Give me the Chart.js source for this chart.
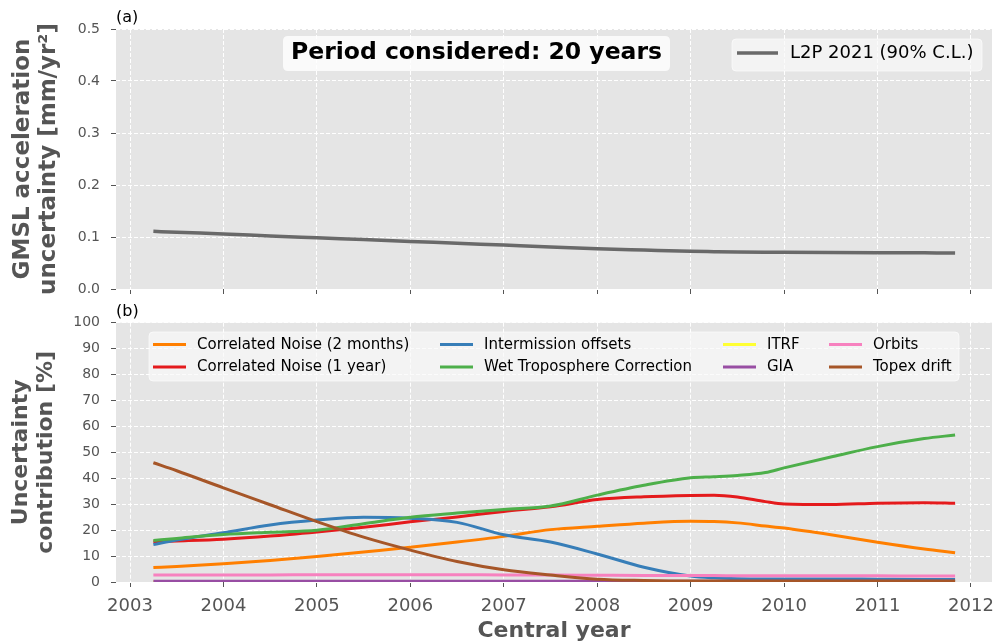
<!DOCTYPE html>
<html><head><meta charset="utf-8">
<script src="https://cdn.jsdelivr.net/npm/chart.js@4.4.1/dist/chart.umd.min.js"></script>
<style>
html,body{margin:0;padding:0;background:#fff;}
#wrap{position:relative;width:995px;height:641px;overflow:hidden;}
canvas{position:absolute;left:0;}
#c1{top:0;} #c2{top:300px;}
</style></head><body>
<div id="wrap">
<canvas id="c1" width="995" height="300"></canvas>
<canvas id="c2" width="995" height="341"></canvas>
</div>
<script>
// ---------- DATA ----------
const centralYears = [2003.25, 2003.5, 2004, 2004.5, 2005, 2005.5, 2006, 2006.5, 2007, 2007.5, 2008, 2008.5, 2009, 2009.25, 2009.5, 2009.8, 2010, 2010.5, 2011, 2011.5, 2011.83];
const yearTicks = [2003, 2004, 2005, 2006, 2007, 2008, 2009, 2010, 2011, 2012];
const accelTicks = [0.0, 0.1, 0.2, 0.3, 0.4, 0.5];
const contribTicks = [0, 10, 20, 30, 40, 50, 60, 70, 80, 90, 100];

const l2pAccelUncertainty = [0.111, 0.109, 0.106, 0.102, 0.0985, 0.095, 0.0915, 0.088, 0.0845, 0.081, 0.0776, 0.075, 0.0725, 0.0718, 0.0712, 0.0708, 0.0706, 0.0702, 0.0698, 0.0695, 0.0692];

const corrNoise2m   = [5.6, 6.0, 7.0, 8.3, 9.8, 11.6, 13.4, 15.4, 17.6, 20.2, 21.5, 22.7, 23.4, 23.3, 22.8, 21.6, 20.8, 18.2, 15.3, 12.7, 11.3];
const corrNoise1y   = [15.5, 15.8, 16.5, 17.7, 19.3, 21.1, 23.2, 25.1, 27.2, 29.0, 31.8, 32.9, 33.4, 33.5, 32.8, 31.0, 30.1, 29.9, 30.4, 30.6, 30.4];
const intermission  = [14.5, 16.2, 19.0, 22.0, 23.9, 25.0, 24.6, 23.0, 18.2, 15.4, 10.8, 5.7, 2.3, 1.6, 1.3, 1.2, 1.2, 1.2, 1.1, 1.0, 1.0];
const wetTropo      = [16.0, 16.8, 18.3, 19.2, 20.0, 22.5, 25.0, 26.6, 28.0, 29.3, 33.5, 37.3, 40.2, 40.6, 41.1, 42.2, 44.0, 48.2, 52.2, 55.3, 56.7];
const itrf          = [0.1, 0.1, 0.1, 0.1, 0.1, 0.1, 0.1, 0.1, 0.1, 0.1, 0.1, 0.1, 0.1, 0.1, 0.1, 0.1, 0.1, 0.1, 0.1, 0.1, 0.1];
const gia           = [0.3, 0.3, 0.3, 0.3, 0.3, 0.3, 0.3, 0.3, 0.3, 0.3, 0.3, 0.3, 0.3, 0.3, 0.3, 0.3, 0.3, 0.3, 0.3, 0.3, 0.3];
const orbits        = [2.7, 2.7, 2.7, 2.7, 2.8, 2.8, 2.8, 2.8, 2.7, 2.7, 2.6, 2.5, 2.5, 2.5, 2.4, 2.4, 2.4, 2.4, 2.4, 2.3, 2.3];
const topexDrift    = [46.0, 42.9, 36.3, 29.8, 23.3, 17.3, 12.3, 7.9, 4.7, 2.7, 1.1, 0.6, 0.4, 0.4, 0.4, 0.4, 0.4, 0.4, 0.4, 0.4, 0.4];

const seriesLabels = ['Correlated Noise (2 months)', 'Correlated Noise (1 year)', 'Intermission offsets', 'Wet Troposphere Correction', 'ITRF', 'GIA', 'Orbits', 'Topex drift'];
const seriesValues = [corrNoise2m, corrNoise1y, intermission, wetTropo, itrf, gia, orbits, topexDrift];
const seriesColors = ['#ff7f00', '#e41a1c', '#377eb8', '#4daf4a', '#ffff33', '#984ea3', '#f781bf', '#a65628'];

const topLabel = 'L2P 2021 (90% C.L.)';
const periodText = 'Period considered: 20 years';

// ---------- STYLE ----------
const FONT = "'DejaVu Sans', 'Liberation Sans', sans-serif";
const TICKC = '#555555';
const DASH = [4, 2];

function pts(vals){ return centralYears.map((x,i)=>({x:x, y:vals[i]})); }

function roundRect(ctx,x,y,w,h,r){
  ctx.beginPath();
  ctx.moveTo(x+r,y); ctx.lineTo(x+w-r,y); ctx.quadraticCurveTo(x+w,y,x+w,y+r);
  ctx.lineTo(x+w,y+h-r); ctx.quadraticCurveTo(x+w,y+h,x+w-r,y+h);
  ctx.lineTo(x+r,y+h); ctx.quadraticCurveTo(x,y+h,x,y+h-r);
  ctx.lineTo(x,y+r); ctx.quadraticCurveTo(x,y,x+r,y); ctx.closePath();
}

const bgPlugin = {
  id:'bg',
  beforeDraw(chart){
    const {ctx, chartArea:a} = chart;
    ctx.save(); ctx.fillStyle = '#e5e5e5';
    ctx.fillRect(a.left, a.top, a.right-a.left, a.bottom-a.top);
    ctx.restore();
  }
};

function gridOpts(){
  return {color:'#ffffff', lineWidth:1, tickColor:TICKC, tickLength:5, tickWidth:1, tickBorderDash:[], borderDash:DASH};
}

function xScale(h){
  return {
    type:'linear', min:2002.85, max:2012.225,
    afterBuildTicks(s){ s.ticks = yearTicks.map(v=>({value:v})); },
    afterFit(s){ s.height = h; s.paddingLeft = 0; s.paddingRight = 0; },
    grid: gridOpts(),
    border:{display:false, dash:DASH},
  };
}
function yScale(min,max,tickVals,fmt,title,size,lh,pad){
  return {
    type:'linear', min:min, max:max,
    afterBuildTicks(s){ s.ticks = tickVals.map(v=>({value:v})); },
    afterFit(s){ s.width = 116; s.paddingTop = 0; s.paddingBottom = 0; },
    grid: gridOpts(),
    border:{display:false, dash:DASH},
    ticks:{color:TICKC, font:{family:FONT, size:14}, padding:11, callback:fmt},
    title:{display:true, text:title, color:TICKC, font:{family:FONT, size:size, weight:'bold', lineHeight:lh}, padding:{top:pad, bottom:0}}
  };
}

// ---------- TOP CHART ----------
const topOverlay = {
  id:'topOverlay',
  afterDraw(chart){
    const ctx = chart.ctx;
    ctx.save();
    ctx.fillStyle = '#000'; ctx.font = '16px '+FONT; ctx.textBaseline = 'alphabetic'; ctx.textAlign='left';
    ctx.fillText('(a)', 116, 22);
    // period text box
    ctx.fillStyle = 'rgba(255,255,255,0.8)';
    roundRect(ctx, 283, 36, 387, 35, 5); ctx.fill();
    ctx.fillStyle = '#000'; ctx.font = 'bold 23.5px '+FONT; ctx.textAlign='center'; ctx.textBaseline='middle';
    ctx.fillText(periodText, 476.5, 53);
    // legend
    ctx.fillStyle = 'rgba(250,250,250,0.7)';
    roundRect(ctx, 732, 39, 250, 32, 4); ctx.fill();
    ctx.strokeStyle = 'rgba(255,255,255,0.6)'; ctx.lineWidth = 1; ctx.stroke();
    const ds = chart.data.datasets[0];
    ctx.strokeStyle = ds.borderColor; ctx.lineWidth = ds.borderWidth; ctx.lineCap='butt';
    ctx.beginPath(); ctx.moveTo(737, 53); ctx.lineTo(778, 53); ctx.stroke();
    ctx.fillStyle = '#000'; ctx.font = '18px '+FONT; ctx.textAlign='left'; ctx.textBaseline='middle';
    ctx.fillText(ds.label, 790, 53.5);
    ctx.restore();
  }
};

new Chart(document.getElementById('c1'), {
  type:'line',
  data:{ datasets:[{label:topLabel, data:pts(l2pAccelUncertainty), borderColor:'#696969', borderWidth:3.5, pointRadius:0, fill:false, tension:0.4, cubicInterpolationMode:'monotone'}]},
  options:{
    responsive:false, animation:false,
    layout:{padding:{left:0, top:29, right:3, bottom:0}},
    plugins:{legend:{display:false}, tooltip:{enabled:false}},
    scales:{
      x: Object.assign(xScale(11), {ticks:{display:false}}),
      y: yScale(0, 0.5, accelTicks, v=>Number(v).toFixed(1), ['GMSL acceleration','uncertainty [mm/yr²]'], 23, '26px', 10)
    }
  },
  plugins:[bgPlugin, topOverlay]
});

// ---------- BOTTOM CHART ----------
const legendCols = [153, 440, 723, 829];
const legendRows = [44.5, 67];
const botOverlay = {
  id:'botOverlay',
  afterDraw(chart){
    const ctx = chart.ctx;
    ctx.save();
    ctx.fillStyle = '#000'; ctx.font = '16px '+FONT; ctx.textBaseline = 'alphabetic'; ctx.textAlign='left';
    ctx.fillText('(b)', 116, 16);
    ctx.fillStyle = 'rgba(250,250,250,0.7)';
    roundRect(ctx, 149, 32, 810, 49, 4); ctx.fill();
    ctx.strokeStyle = 'rgba(255,255,255,0.6)'; ctx.lineWidth = 1; ctx.stroke();
    chart.data.datasets.forEach((ds,i)=>{
      const col = Math.floor(i/2), row = i%2;
      const x = legendCols[col], y = legendRows[row];
      ctx.strokeStyle = ds.borderColor; ctx.lineWidth = 3; ctx.lineCap='butt';
      ctx.beginPath(); ctx.moveTo(x, y); ctx.lineTo(x+33, y); ctx.stroke();
      ctx.fillStyle = '#000'; ctx.font = '15px '+FONT; ctx.textBaseline='middle';
      ctx.fillText(ds.label, x+44, y+0.5);
    });
    ctx.restore();
  }
};

new Chart(document.getElementById('c2'), {
  type:'line',
  data:{ datasets: seriesLabels.map((lab,i)=>({
    label:lab, data:pts(seriesValues[i]), borderColor:seriesColors[i], borderWidth:3,
    pointRadius:0, fill:false, tension:0.4, cubicInterpolationMode:'monotone', clip:0, order: seriesLabels.length - i
  }))},
  options:{
    responsive:false, animation:false,
    layout:{padding:{left:0, top:22.7, right:3, bottom:0}},
    plugins:{legend:{display:false}, tooltip:{enabled:false}},
    scales:{
      x: Object.assign(xScale(59), {
        ticks:{color:TICKC, font:{family:FONT, size:18}, padding:9, maxRotation:0, callback:v=>String(v)},
        title:{display:true, text:'Central year', color:TICKC, font:{family:FONT, size:22, weight:'bold', lineHeight:0.87}, padding:{top:0, bottom:0}}
      }),
      y: yScale(0, 100, contribTicks, v=>String(v), ['Uncertainty','contribution [%]'], 22, '25px', 8.4)
    }
  },
  plugins:[bgPlugin, botOverlay]
});
</script>
</body></html>
